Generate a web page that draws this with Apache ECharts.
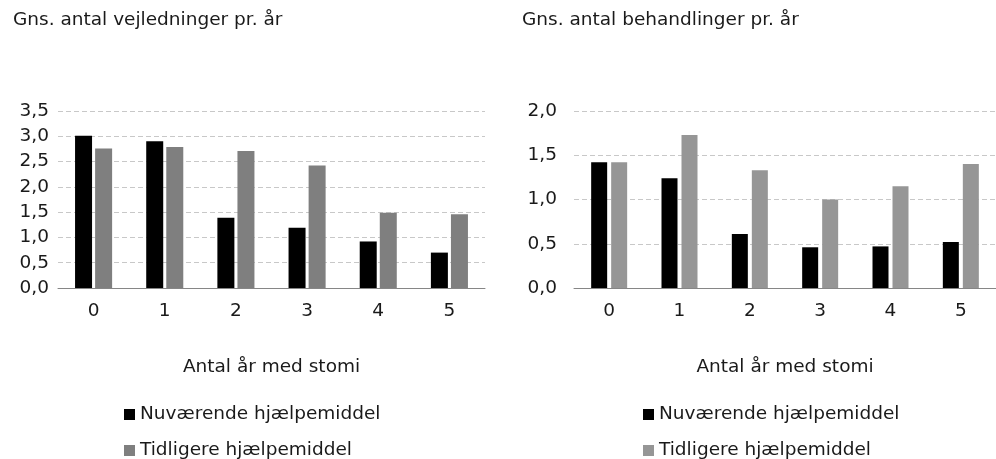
<!DOCTYPE html>
<html>
<head>
<meta charset="utf-8">
<script src="https://cdn.jsdelivr.net/npm/echarts@6/dist/echarts.min.js"></script>
<style>
  html, body { margin: 0; padding: 0; background: #fff; }
  #chart { width: 996px; height: 459px; }
</style>
</head>
<body>
<div id="chart"></div>
<script>
  // data
  const years = ['0', '1', '2', '3', '4', '5']
  const vejNuvaerende = [3.01, 2.90, 1.39, 1.19, 0.92, 0.70]
  const vejTidligere = [2.76, 2.79, 2.71, 2.42, 1.49, 1.46]
  const behNuvaerende = [1.42, 1.24, 0.61, 0.46, 0.47, 0.52]
  const behTidligere = [1.42, 1.73, 1.33, 1.00, 1.15, 1.40]

  const FONT = '"DejaVu Sans", Verdana, sans-serif'
  const txt = { fontFamily: FONT, fontSize: 18.5, color: '#1a1a1a' }

  const fmt = v => v.toFixed(1).replace('.', ',')

  const yAxisBase = (max, margin) => ({
    type: 'value',
    min: 0,
    max: max,
    interval: 0.5,
    axisLine: { show: false },
    axisTick: { show: false },
    axisLabel: { ...txt, margin: margin, formatter: fmt },
    splitLine: { lineStyle: { color: '#c8c8c8', type: [5, 3] } }
  })

  const xAxisBase = (gridIndex) => ({
    type: 'category',
    gridIndex: gridIndex,
    data: years,
    axisLine: { lineStyle: { color: '#868686', width: 1 } },
    axisTick: { show: false },
    axisLabel: { ...txt, margin: 14 },
    name: 'Antal år med stomi',
    nameLocation: 'middle',
    nameGap: 70,
    nameTextStyle: txt
  })

  // one legend per item so the rows stack like the original
  const legendItem = (name, left, top) => ({
    left: left, top: top, itemWidth: 11, itemHeight: 11, itemGap: 4,
    icon: 'rect', textStyle: { ...txt, padding: [0, 0, 0, 0] },
    data: [name], selectedMode: false
  })

  const chart = echarts.init(document.getElementById('chart'))
  chart.setOption({
    animation: false,
    title: [
      { text: 'Gns. antal vejledninger pr. år', left: 8, top: 6, textStyle: { ...txt, fontWeight: 'normal' } },
      { text: 'Gns. antal behandlinger pr. år', left: 517, top: 6, textStyle: { ...txt, fontWeight: 'normal' } }
    ],
    legend: [
      legendItem('Nuværende hjælpemiddel', 119, 400),
      legendItem('Tidligere hjælpemiddel', 119, 436),
      legendItem('Nuværende hjælpemiddel ', 638, 400),
      legendItem('Tidligere hjælpemiddel ', 638, 436)
    ],
    grid: [
      { left: 58, top: 111, width: 427, height: 177 },
      { left: 574, top: 111, width: 431, height: 177 }
    ],
    xAxis: [xAxisBase(0), xAxisBase(1)],
    yAxis: [
      { ...yAxisBase(3.5, 9), gridIndex: 0 },
      { ...yAxisBase(2.0, 17), gridIndex: 1 }
    ],
    series: [
      { name: 'Nuværende hjælpemiddel', type: 'bar', xAxisIndex: 0, yAxisIndex: 0, data: vejNuvaerende,
        barWidth: 17, barGap: '18%', itemStyle: { color: '#000000' } },
      { name: 'Tidligere hjælpemiddel', type: 'bar', xAxisIndex: 0, yAxisIndex: 0, data: vejTidligere,
        barWidth: 17, barGap: '18%', itemStyle: { color: '#7f7f7f' } },
      { name: 'Nuværende hjælpemiddel ', type: 'bar', xAxisIndex: 1, yAxisIndex: 1, data: behNuvaerende,
        barWidth: 16, barGap: '25%', itemStyle: { color: '#000000' } },
      { name: 'Tidligere hjælpemiddel ', type: 'bar', xAxisIndex: 1, yAxisIndex: 1, data: behTidligere,
        barWidth: 16, barGap: '25%', itemStyle: { color: '#969696' } }
    ]
  })
</script>
</body>
</html>
